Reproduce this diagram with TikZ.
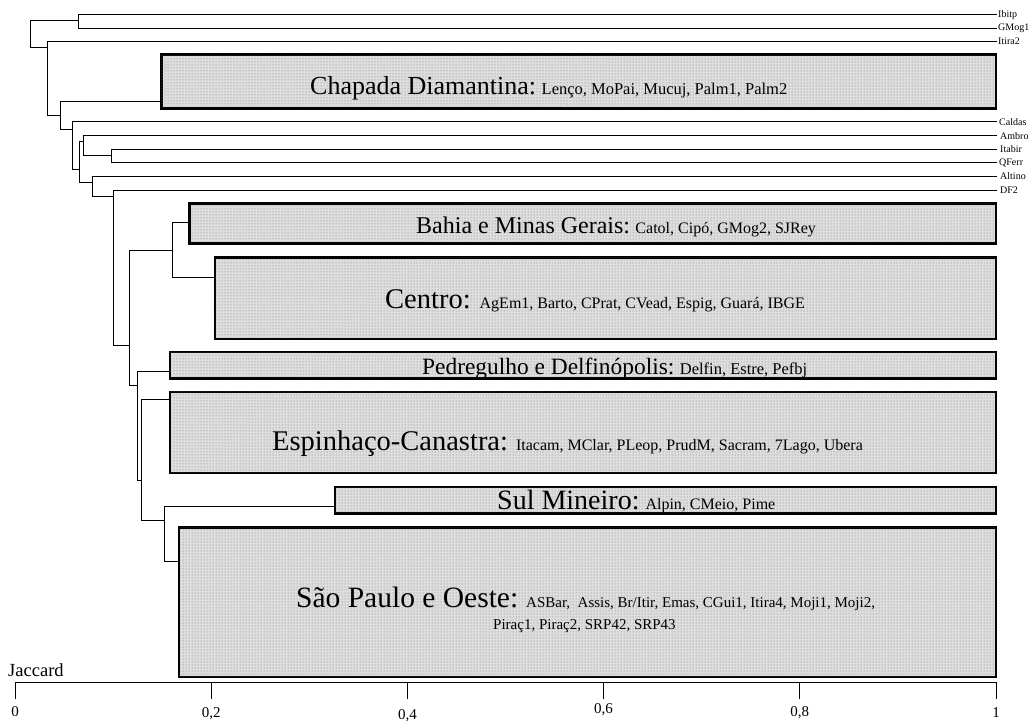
\documentclass[tikz,border=0pt]{standalone}
\usepackage{fontspec}
\setmainfont{Liberation Serif}
\usetikzlibrary{patterns}
\newcommand{\GSz}[1]{\fontsize{#1}{#1}\selectfont}
\begin{document}
\begin{tikzpicture}[x=1pt,y=-1pt,
  dl/.style={line width=0.9pt},
  grp/.style={draw, line width=2.4pt, fill=black!13, postaction={pattern=dots, pattern color=black!55}, anchor=north west, inner sep=0pt, outer sep=0pt},
  leaf/.style={anchor=west, inner sep=0pt, font=\fontsize{10}{10}\selectfont},
  grptext/.style={anchor=base west, inner sep=0pt},
  ticklab/.style={inner sep=0pt, font=\fontsize{15}{15}\selectfont}]
\useasboundingbox (0,0) rectangle (1035,725);
% group boxes
\node[grp, minimum width=834.7pt, minimum height=53.6pt] (chap) at (161.3,54.7) {};
\node[grp, minimum width=806.7pt, minimum height=40pt] (bahia) at (189.3,203.3) {};
\node[grp, minimum width=781pt, minimum height=81.7pt] (centro) at (215,257.3) {};
\node[grp, minimum width=826pt, minimum height=26.6pt] (pedreg) at (170,351.7) {};
\node[grp, minimum width=826pt, minimum height=81pt] (espin) at (170,391.7) {};
\node[grp, minimum width=661pt, minimum height=26.3pt] (sul) at (335,487) {};
\node[grp, minimum width=817pt, minimum height=149.4pt] (sao) at (179,527.3) {};
% group texts
\node[grptext] (chapt) at (310,94) {\GSz{26}Chapada Diamantina:\GSz{16.5} Lenço, MoPai, Mucuj, Palm1, Palm2};
\node[grptext] (bahiat) at (416,233) {\GSz{24}Bahia e Minas Gerais:\GSz{16} Catol, Cipó, GMog2, SJRey};
\node[grptext] (centrot) at (385,308) {\GSz{28.5}Centro:\GSz{16}\hspace{9pt}AgEm1, Barto, CPrat, CVead, Espig, Guará, IBGE};
\node[grptext] (pedregt) at (422,374) {\GSz{23.4}Pedregulho e Delfinópolis:\GSz{16.5} Delfin, Estre, Pefbj};
\node[grptext] (espint) at (272,450) {\GSz{28.5}Espinhaço-Canastra:\GSz{16}\hspace{8pt}Itacam, MClar, PLeop, PrudM, Sacram, 7Lago, Ubera};
\node[grptext] (sult) at (497,509) {\GSz{28}Sul Mineiro:\GSz{16}\hspace{6pt}Alpin, CMeio, Pime};
\node[grptext] (saot) at (296,607) {\GSz{29.5}São Paulo e Oeste:\GSz{15}\hspace{8pt}ASBar,\ \ Assis, Br/Itir, Emas, CGui1, Itira4, Moji1, Moji2,};
\node[grptext] (saot2) at (493,629) {\GSz{15}Piraç1, Piraç2, SRP42, SRP43};
% leaves
\node[leaf] (ibitp) at (998,14.7) {Ibitp};
\node[leaf] (gmog) at (998,28) {GMog1};
\node[leaf] (itira) at (998,41) {Itira2};
\node[leaf] (caldas) at (999,121.7) {Caldas};
\node[leaf] (ambro) at (1000,135.7) {Ambro};
\node[leaf] (itabir) at (1000,149) {Itabir};
\node[leaf] (qferr) at (999,162.7) {QFerr};
\node[leaf] (altino) at (1000,176) {Altino};
\node[leaf] (df) at (1000,190) {DF2};
% junctions
\coordinate (j1) at (78,20.7);
\coordinate (j2) at (30,34);
\coordinate (j3) at (47.7,47.7);
\coordinate (j4) at (60,115.7);
\coordinate (j5) at (72.7,129);
\coordinate (j6) at (79,169.7);
\coordinate (j7) at (83.7,141.7);
\coordinate (j8) at (111.7,155);
\coordinate (j9) at (92.3,182.7);
\coordinate (j10) at (113.7,196);
\coordinate (j11) at (129,345);
\coordinate (j12) at (172,250.3);
\coordinate (j13) at (137,385.7);
\coordinate (j14) at (141.7,480);
\coordinate (j15) at (164.3,520);
% box inlets
\coordinate (chapin) at (chap.west |- 0,101.7);
\coordinate (bahiain) at (bahia.west |- 0,222.7);
\coordinate (centroin) at (centro.west |- 0,277.7);
\coordinate (pedregin) at (pedreg.west |- 0,371.7);
\coordinate (espinin) at (espin.west |- 0,399);
\coordinate (sulin) at (sul.west |- 0,506.7);
\coordinate (saoin) at (sao.west |- 0,561);
% leaf line ends
\foreach \l in {ibitp,gmog,itira,caldas,ambro,itabir,qferr,altino,df}
  \coordinate (\l e) at (996.5,0 |- \l.west);
% dendrogram
\draw[dl] (ibitpe) -- (j1 |- ibitpe) -- (j1 |- gmoge) -- (gmoge);
\draw[dl] (j1) -- (j2 |- j1) -- (j2 |- j3) -- (j3);
\draw[dl] (itirae) -- (j3 |- itirae) -- (j3 |- j4) -- (j4);
\draw[dl] (chapin) -- (j4 |- chapin) -- (j4 |- j5) -- (j5);
\draw[dl] (caldase) -- (j5 |- caldase) -- (j5 |- j6) -- (j6);
\draw[dl] (j7) -- (j6 |- j7) -- (j6 |- j9) -- (j9);
\draw[dl] (ambroe) -- (j7 |- ambroe) -- (j7 |- j8) -- (j8);
\draw[dl] (itabire) -- (j8 |- itabire) -- (j8 |- qferre) -- (qferre);
\draw[dl] (altinoe) -- (j9 |- altinoe) -- (j9 |- j10) -- (j10);
\draw[dl] (dfe) -- (j10 |- dfe) -- (j10 |- j11) -- (j11);
\draw[dl] (j12) -- (j11 |- j12) -- (j11 |- j13) -- (j13);
\draw[dl] (bahiain) -- (j12 |- bahiain) -- (j12 |- centroin) -- (centroin);
\draw[dl] (pedregin) -- (j13 |- pedregin) -- (j13 |- j14) -- (j14);
\draw[dl] (espinin) -- (j14 |- espinin) -- (j14 |- j15) -- (j15);
\draw[dl] (sulin) -- (j15 |- sulin) -- (j15 |- saoin) -- (saoin);
% axis
\coordinate (a0) at (15,682.3);
\coordinate (a1) at (996,682.3);
\draw[dl] (a0) -- (a1);
\foreach \i/\lab/\ly in {0/0/711.7, 1/{0,2}/714, 2/{0,4}/715.5, 3/{0,6}/710, 4/{0,8}/712.7, 5/1/712.7}{
  \coordinate (t\i) at ({15+196.2*\i},682.3);
  \draw[dl] (t\i) -- ++(0,16.7);
  \node[ticklab] (tl\i) at (t\i |- 0,\ly) {\lab};
}
\node[anchor=base west, inner sep=0pt, font=\fontsize{18.5}{19}\selectfont] (jac) at (8,676.7) {Jaccard};
\end{tikzpicture}
\end{document}
